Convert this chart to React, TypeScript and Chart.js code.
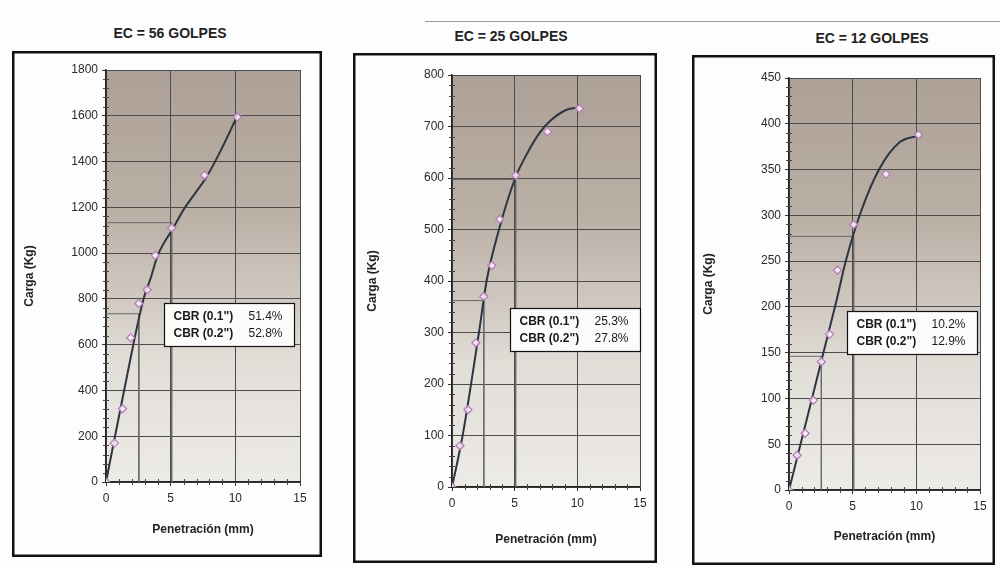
import React, { useEffect, useRef } from "react";
import { Chart, registerables } from "chart.js";

Chart.register(...registerables);

// ---- Data ----
const PENETRATION_MM = [0, 0.64, 1.27, 1.91, 2.54, 3.18, 3.81, 5.08, 7.62, 10.16];
const LOAD_56 = [0, 170, 320, 630, 780, 840, 990, 1110, 1340, 1595];
const LOAD_25 = [0, 80, 150, 280, 370, 430, 520, 605, 690, 735];
const LOAD_12 = [0, 38, 62, 98, 140, 170, 240, 290, 345, 388];

// fitted curves
const CURVE_56_X = [0, 1.4, 2.9, 3.45, 4.0, 5.2, 6.0, 7.0, 7.8, 8.8, 10.16];
const CURVE_56_Y = [0, 400, 800, 890, 990, 1110, 1190, 1270, 1335, 1440, 1600];
const CURVE_25_X = [0, 0.85, 2.15, 2.76, 3.75, 5.05, 6.05, 7.0, 7.8, 9.1, 10.16];
const CURVE_25_Y = [0, 100, 300, 400, 500, 600, 650, 688, 710, 732, 737];
const CURVE_12_X = [0, 1.9, 2.7, 3.7, 4.46, 5.6, 7.07, 8.7, 10.16];
const CURVE_12_Y = [0, 105, 150, 205, 250, 302, 350, 380, 387];

// CBR construction lines
const CBR_PENETRATION = [2.54, 5.08];
const CBR_LOAD_56 = [735, 1133];
const CBR_LOAD_25 = [362, 597];
const CBR_LOAD_12 = [146, 277];

const CBR_LABELS = ['CBR (0.1")', 'CBR (0.2")'];
const CBR_VALUES_56 = ["51.4%", "52.8%"];
const CBR_VALUES_25 = ["25.3%", "27.8%"];
const CBR_VALUES_12 = ["10.2%", "12.9%"];

const TITLES = ["EC = 56 GOLPES", "EC = 25 GOLPES", "EC = 12 GOLPES"];
const Y_TITLE = "Carga (Kg)";
const X_TITLE = "Penetración (mm)";
const X_MAX = 15;
const X_STEP = 5;

const FONT = "'Liberation Sans', Arial, sans-serif";
const NARROW = "'Liberation Sans Narrow', 'Liberation Sans', Arial, sans-serif";

type PanelProps = {
  title: string;
  titleX: number;
  titleY: number;
  left: number;
  top: number;
  width: number;
  height: number;
  yMax: number;
  yStep: number;
  loads: number[];
  curveX: number[];
  curveY: number[];
  cbrLoads: number[];
  cbrValues: string[];
  yAxisW: number;
  xAxisH: number;
  padTop: number;
  padRight: number;
  yTitlePad: number;
  xTitlePad: number;
};

function Panel(p: PanelProps) {
  const ref = useRef<HTMLCanvasElement | null>(null);

  useEffect(() => {
    if (!ref.current) return;

    const bgPlugin = {
      id: "bg",
      beforeDraw(chart: any) {
        const { ctx, chartArea: ca } = chart;
        ctx.save();
        const g = ctx.createLinearGradient(0, ca.top, 0, ca.bottom);
        g.addColorStop(0, "#ada197");
        g.addColorStop(0.35, "#bbb0a6");
        g.addColorStop(0.55, "#d0c8c0");
        g.addColorStop(0.7, "#e1ddd7");
        g.addColorStop(1, "#edebe7");
        ctx.fillStyle = g;
        ctx.fillRect(ca.left, ca.top, ca.right - ca.left, ca.bottom - ca.top);
        ctx.restore();
      },
      afterDraw(chart: any) {
        const { ctx, chartArea: ca, width, height } = chart;
        const xs = chart.scales.x;
        const ys = chart.scales.y;
        ctx.save();
        // minor ticks
        ctx.strokeStyle = "#444";
        ctx.lineWidth = 1;
        ctx.beginPath();
        for (let v = 1; v < X_MAX; v++) {
          if (v % X_STEP === 0) continue;
          const px = Math.round(xs.getPixelForValue(v)) + 0.5;
          ctx.moveTo(px, ca.bottom - 3);
          ctx.lineTo(px, ca.bottom + 3);
        }
        const minor = p.yStep / 5;
        for (let i = 1; i * minor < p.yMax; i++) {
          if (i % 5 === 0) continue;
          const py = Math.round(ys.getPixelForValue(i * minor)) + 0.5;
          ctx.moveTo(ca.left - 3, py);
          ctx.lineTo(ca.left + 3, py);
        }
        ctx.stroke();

        // CBR table
        const bx = Math.round(ca.left + 58) + 0.5;
        const by = Math.round(ca.top + 233) + 0.5;
        const bw = 130;
        const bh = 43;
        ctx.fillStyle = "#fbfbfa";
        ctx.fillRect(bx, by, bw, bh);
        ctx.strokeStyle = "#111";
        ctx.lineWidth = 1.2;
        ctx.strokeRect(bx, by, bw, bh);
        ctx.fillStyle = "#1a1a1a";
        ctx.textBaseline = "middle";
        ctx.textAlign = "left";
        CBR_LABELS.forEach((lab, i) => {
          const ty = by + 13 + i * 17;
          ctx.font = `bold 12px ${NARROW}`;
          ctx.fillText(lab, bx + 9, ty);
          ctx.font = `12px ${NARROW}`;
          ctx.fillText(p.cbrValues[i], bx + 84, ty);
        });

        // outer frame
        ctx.strokeStyle = "#111";
        ctx.lineWidth = 2.5;
        ctx.strokeRect(1.25, 1.25, width - 2.5, height - 2.5);
        ctx.restore();
      },
    };

    const pts = PENETRATION_MM.map((x, i) => ({ x, y: p.loads[i] }));
    const curve = p.curveX.map((x, i) => ({ x, y: p.curveY[i] }));
    const cbrSets = CBR_PENETRATION.map((pen, i) => ({
      type: "line" as const,
      data: [
        { x: 0, y: p.cbrLoads[i] },
        { x: pen, y: p.cbrLoads[i] },
        { x: pen, y: 0 },
      ],
      borderColor: "#6a6a6a",
      borderWidth: 1,
      pointRadius: 0,
      tension: 0,
      fill: false,
      order: 3,
    }));

    const chart = new Chart(ref.current, {
      type: "scatter",
      data: {
        datasets: [
          {
            type: "scatter",
            data: pts,
            pointStyle: "rectRot",
            pointRadius: 4,
            pointBorderColor: "#b77cb8",
            pointBackgroundColor: "rgba(250,246,250,0.85)",
            pointBorderWidth: 1.3,
            showLine: false,
            order: 0,
          } as any,
          {
            type: "line",
            data: curve,
            borderColor: "#2c3541",
            borderWidth: 2,
            pointRadius: 0,
            cubicInterpolationMode: "monotone",
            fill: false,
            order: 1,
          } as any,
          ...cbrSets,
        ],
      },
      options: {
        animation: false,
        responsive: false,
        maintainAspectRatio: false,
        events: [],
        layout: {
          padding: { left: 0, top: p.padTop, right: p.padRight, bottom: 0 },
        },
        plugins: {
          legend: { display: false },
          tooltip: { enabled: false },
        },
        scales: {
          x: {
            type: "linear",
            min: 0,
            max: X_MAX,
            ticks: {
              stepSize: X_STEP,
              color: "#2a2a2a",
              font: { family: FONT, size: 12 },
              padding: 5,
              callback: (v: any) => String(v),
            },
            grid: {
              color: "#4c4c4c",
              lineWidth: 1,
              tickLength: 4,
              tickColor: "#333",
            },
            border: { display: true, color: "#222", width: 1.5 },
            title: {
              display: true,
              text: X_TITLE,
              color: "#222",
              font: { family: FONT, size: 12, weight: "bold" },
              padding: { top: 0, bottom: p.xTitlePad },
            },
            afterFit(scale: any) {
              scale.height = p.xAxisH;
            },
          },
          y: {
            type: "linear",
            min: 0,
            max: p.yMax,
            ticks: {
              stepSize: p.yStep,
              color: "#2a2a2a",
              font: { family: FONT, size: 12 },
              padding: 4,
              callback: (v: any) => String(v),
            },
            grid: {
              color: "#4c4c4c",
              lineWidth: 1,
              tickLength: 4,
              tickColor: "#333",
            },
            border: { display: true, color: "#222", width: 1.5 },
            title: {
              display: true,
              text: Y_TITLE,
              color: "#222",
              font: { family: FONT, size: 12, weight: "bold" },
              padding: { top: p.yTitlePad, bottom: 0 },
            },
            afterFit(scale: any) {
              scale.width = p.yAxisW;
            },
          },
        },
      },
      plugins: [bgPlugin],
    } as any);

    return () => chart.destroy();
  }, []);

  return (
    <>
      <div
        style={{
          position: "absolute",
          left: p.titleX - 120,
          top: p.titleY - 9,
          width: 240,
          height: 18,
          lineHeight: "18px",
          textAlign: "center",
          fontFamily: FONT,
          fontWeight: "bold",
          fontSize: 14,
          color: "#222",
        }}
      >
        {p.title}
      </div>
      <canvas
        ref={ref}
        width={p.width}
        height={p.height}
        style={{
          position: "absolute",
          left: p.left,
          top: p.top,
          width: p.width,
          height: p.height,
        }}
      />
    </>
  );
}

export default function App() {
  return (
    <div
      style={{
        position: "absolute",
        left: 0,
        top: 0,
        width: 1000,
        height: 566,
        background: "#fdfdfd",
        overflow: "hidden",
      }}
    >
      <div
        style={{
          position: "absolute",
          left: 425,
          top: 21,
          width: 575,
          height: 1,
          background: "#9a9a9a",
        }}
      />
      <Panel
        title={TITLES[0]}
        titleX={170}
        titleY={33}
        left={12}
        top={51}
        width={310}
        height={506}
        yMax={1800}
        yStep={200}
        loads={LOAD_56}
        curveX={CURVE_56_X}
        curveY={CURVE_56_Y}
        cbrLoads={CBR_LOAD_56}
        cbrValues={CBR_VALUES_56}
        yAxisW={94}
        xAxisH={75}
        padTop={19}
        padRight={22}
        yTitlePad={10}
        xTitlePad={20}
      />
      <Panel
        title={TITLES[1]}
        titleX={511}
        titleY={36}
        left={353}
        top={53}
        width={304}
        height={510}
        yMax={800}
        yStep={100}
        loads={LOAD_25}
        curveX={CURVE_25_X}
        curveY={CURVE_25_Y}
        cbrLoads={CBR_LOAD_25}
        cbrValues={CBR_VALUES_25}
        yAxisW={99}
        xAxisH={76}
        padTop={22}
        padRight={17}
        yTitlePad={12}
        xTitlePad={16}
      />
      <Panel
        title={TITLES[2]}
        titleX={872}
        titleY={38}
        left={692}
        top={55}
        width={303}
        height={510}
        yMax={450}
        yStep={50}
        loads={LOAD_12}
        curveX={CURVE_12_X}
        curveY={CURVE_12_Y}
        cbrLoads={CBR_LOAD_12}
        cbrValues={CBR_VALUES_12}
        yAxisW={97}
        xAxisH={75}
        padTop={23}
        padRight={15}
        yTitlePad={9}
        xTitlePad={21}
      />
    </div>
  );
}
